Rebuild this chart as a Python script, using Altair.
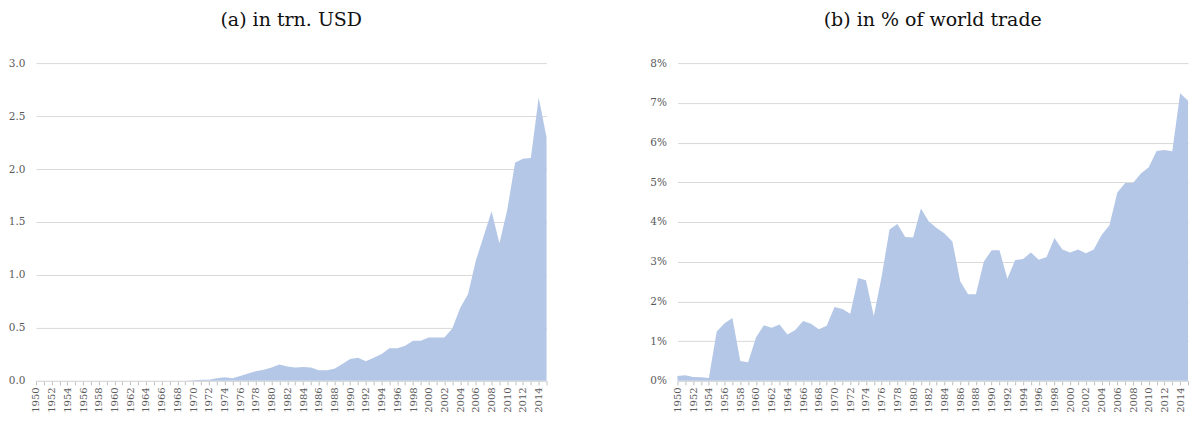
import altair as alt
import pandas as pd

years = list(range(1950, 2016))

usd_trn = [0.0] * 20 + [
    0.005, 0.01, 0.01, 0.025, 0.035, 0.025, 0.045, 0.07, 0.09, 0.105,   # 1970-1979
    0.125, 0.155, 0.135, 0.125, 0.13, 0.125, 0.10, 0.10, 0.115, 0.16,   # 1980-1989
    0.207, 0.217, 0.186, 0.217, 0.254, 0.307, 0.307, 0.331, 0.378, 0.378,  # 1990-1999
    0.409, 0.409, 0.409, 0.495, 0.687, 0.817, 1.136, 1.368, 1.601, 1.30,   # 2000-2009
    1.616, 2.062, 2.096, 2.105, 2.675, 2.30,                            # 2010-2015
]

pct_world = [
    0.12, 0.14, 0.10, 0.09, 0.075, 1.24, 1.45, 1.58, 0.50, 0.47,   # 1950-1959
    1.09, 1.40, 1.34, 1.42, 1.17, 1.28, 1.51, 1.44, 1.30, 1.39,   # 1960-1969
    1.86, 1.81, 1.69, 2.59, 2.53, 1.63, 2.63, 3.81, 3.95, 3.62,   # 1970-1979
    3.61, 4.34, 4.01, 3.85, 3.71, 3.51, 2.51, 2.18, 2.18, 3.00,   # 1980-1989
    3.29, 3.29, 2.57, 3.04, 3.07, 3.23, 3.05, 3.12, 3.60, 3.31,   # 1990-1999
    3.23, 3.31, 3.21, 3.31, 3.67, 3.92, 4.74, 4.98, 4.98, 5.22,   # 2000-2009
    5.38, 5.79, 5.81, 5.78, 7.24, 7.05,                           # 2010-2015
]

titles = ["(a) in trn. USD", "(b) in % of world trade"]
y_ticks_a = [0, 0.5, 1.0, 1.5, 2.0, 2.5, 3.0]
y_ticks_b = [0, 1, 2, 3, 4, 5, 6, 7, 8]

df_a = pd.DataFrame({"year": years, "value": usd_trn})
df_b = pd.DataFrame({"year": years, "value": pct_world})

TFONT = "DejaVu Serif"
AREA = "#b4c7e7"
LABEL = "#595959"

x_axis = alt.Axis(
    values=years,
    labelExpr="datum.value % 2 == 0 ? '' + datum.value : ''",
    labelAngle=-90,
    labelFont=TFONT,
    labelFontSize=10,
    labelColor=LABEL,
    labelOverlap=False,
    labelFlush=False,
    labelPadding=2,
    tickSize=4,
    tickColor="#bfbfbf",
    domainColor="#d9d9d9",
    grid=False,
    title=None,
)

x_enc = alt.X("year:Q", scale=alt.Scale(domain=[1950, 2015], nice=False, zero=False), axis=x_axis)


def y_axis(vals, expr):
    return alt.Axis(
        values=vals,
        labelExpr=expr,
        labelFont=TFONT,
        labelFontSize=10.5,
        labelColor=LABEL,
        labelPadding=11,
        domain=False,
        ticks=False,
        grid=True,
        gridColor="#d9d9d9",
        gridWidth=1,
        title=None,
    )


def title_params(text):
    return alt.TitleParams(
        text=text, font=TFONT, fontSize=19, fontWeight="normal", color="#111111",
        anchor="middle", offset=28,
    )


chart_a = alt.Chart(df_a, title=title_params(titles[0])).mark_area(color=AREA, opacity=1).encode(
    x=x_enc,
    y=alt.Y("value:Q", scale=alt.Scale(domain=[0, 3.0], nice=False),
            axis=y_axis(y_ticks_a, "format(datum.value, '.1f')")),
).properties(width=511, height=318)

chart_b = alt.Chart(df_b, title=title_params(titles[1])).mark_area(color=AREA, opacity=1).encode(
    x=x_enc,
    y=alt.Y("value:Q", scale=alt.Scale(domain=[0, 8], nice=False),
            axis=y_axis(y_ticks_b, "datum.value + '%'")),
).properties(width=511, height=318)

chart = alt.hconcat(chart_a, chart_b, spacing=98).properties(
    padding={"left": 0, "top": 3, "right": 0, "bottom": 0}
).configure_view(stroke=None)

chart.save("out.html", embed_options={"renderer": "svg", "actions": False})
